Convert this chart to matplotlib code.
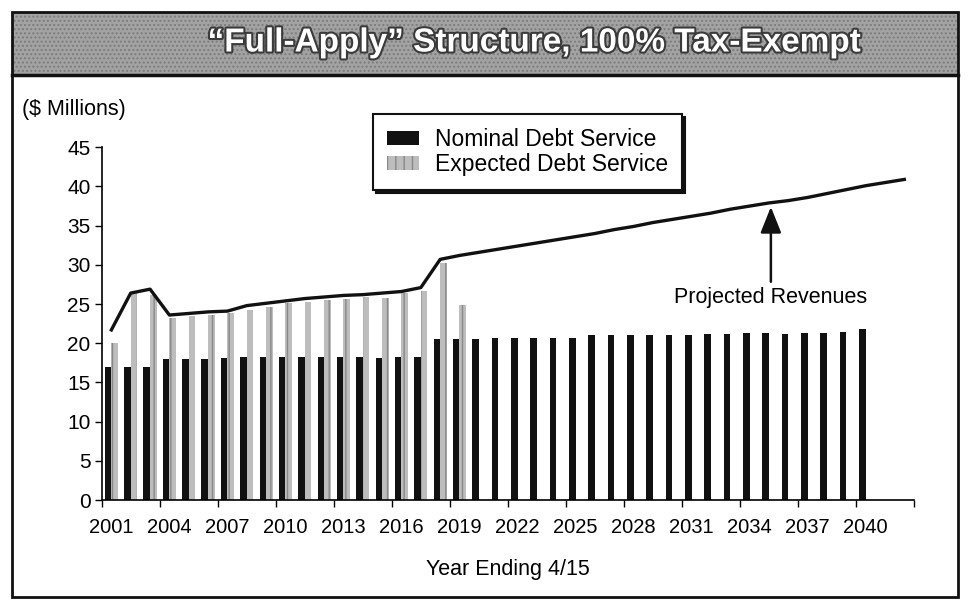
import numpy as np
import matplotlib
matplotlib.use("Agg")
import matplotlib.pyplot as plt
from matplotlib.patches import Rectangle
import matplotlib.patheffects as pe

plt.rcParams['font.family'] = ['Liberation Sans', 'DejaVu Sans']

# data ($ millions, year ending 4/15)
years = list(range(2001, 2043))
nominal = [17.0, 17.0, 17.0, 18.0, 18.0, 18.0, 18.1, 18.3, 18.3, 18.3,
           18.3, 18.3, 18.2, 18.2, 18.1, 18.2, 18.3, 20.5, 20.5, 20.6,
           20.7, 20.7, 20.7, 20.7, 20.7, 21.0, 21.1, 21.1, 21.1, 21.1,
           21.1, 21.2, 21.2, 21.3, 21.3, 21.2, 21.3, 21.3, 21.4, 21.8]
expected = [20.0, 26.4, 26.1, 23.2, 23.5, 23.6, 23.9, 24.2, 24.6, 25.1,
            25.3, 25.5, 25.7, 25.9, 25.8, 26.4, 26.7, 30.2, 24.9]
revenues = [21.7, 26.4, 26.9, 23.6, 23.8, 24.0, 24.1, 24.8, 25.1, 25.4,
            25.7, 25.9, 26.1, 26.2, 26.4, 26.6, 27.1, 30.7, 31.2, 31.6,
            32.0, 32.4, 32.8, 33.2, 33.6, 34.0, 34.5, 34.9, 35.4, 35.8,
            36.2, 36.6, 37.1, 37.5, 37.9, 38.2, 38.6, 39.1, 39.6, 40.1,
            40.5, 40.9]
label_years = years[0:40:3]

W, H = 968, 602
fig = plt.figure(figsize=(W / 100, H / 100), dpi=100)

# banner + frame
fig.patches.append(Rectangle((12 / W, 1 - 75 / H), 946 / W, 63 / H,
                             transform=fig.transFigure, facecolor='#a3a3a3',
                             edgecolor='#7d7d7d', hatch='....', lw=0, zorder=0))
fig.patches.append(Rectangle((12 / W, 1 - 597 / H), 946 / W, 585 / H,
                             transform=fig.transFigure, facecolor='none',
                             edgecolor='#111111', lw=2, zorder=1))
fig.add_artist(plt.Line2D([12 / W, 958 / W], [1 - 75 / H, 1 - 75 / H],
                          color='#111111', lw=2.5))
fig.text(535 / W, 1 - 43 / H, '\u201cFull-Apply\u201d Structure, 100% Tax-Exempt',
         ha='center', va='center', fontsize=24, fontweight='bold', color='white',
         path_effects=[pe.withStroke(linewidth=3, foreground='#3a3a3a')])
fig.text(22 / W, 1 - 110 / H, '($ Millions)', ha='left', va='center', fontsize=15.5)

ax = fig.add_axes([101.7 / W, 1 - 500 / H, 812.3 / W, 352.7 / H])
x = np.arange(len(years))

b1 = ax.bar(x[:len(nominal)] - 0.17, nominal, width=0.34, color='#111111',
            label='Nominal Debt Service', zorder=2)
b2 = ax.bar(x[:len(expected)] + 0.17, expected, width=0.34, color='#bdbdbd',
            edgecolor='#888888', hatch='||', lw=0,
            label='Expected Debt Service', zorder=2)
ax.plot(x, revenues, color='#111111', lw=2.4, zorder=3)

ax.annotate('Projected Revenues', xy=(34.1, 37.4), xytext=(34.1, 25.8),
            ha='center', va='center', fontsize=15.5,
            arrowprops=dict(arrowstyle='-|>,head_length=0.8,head_width=0.32',
                            mutation_scale=20, color='#111111', lw=1.8,
                            shrinkA=2, shrinkB=0))

ax.set_xlim(-0.5, len(years) - 0.5)
ax.set_ylim(0, 45)
ax.set_yticks(range(0, 46, 5))
ax.set_xticks(np.arange(-0.5, len(years), 3))
ax.set_xticklabels([])
ax.set_xticks([years.index(y) for y in label_years], minor=True)
ax.set_xticklabels([str(y) for y in label_years], minor=True)
ax.tick_params(axis='x', which='major', length=5, width=1, direction='out')
ax.tick_params(axis='x', which='minor', length=0, pad=13, labelsize=14.5)
ax.tick_params(axis='y', length=5, width=1, pad=3, labelsize=15)
for s in ['top', 'right']:
    ax.spines[s].set_visible(False)
for s in ['left', 'bottom']:
    ax.spines[s].set_linewidth(1.2)
ax.set_xlabel('Year Ending 4/15', fontsize=15.5, labelpad=16)

leg = ax.legend(handles=[b1, b2], loc='upper left', bbox_to_anchor=(0.334, 1.094),
                borderaxespad=0, fontsize=16.5, frameon=True, fancybox=False,
                borderpad=0.6, handlelength=1.4, handleheight=0.55,
                handletextpad=0.7, labelspacing=0.1,
                shadow={'color': '#111111', 'alpha': 1})
leg.get_frame().set_edgecolor('#111111')
leg.get_frame().set_linewidth(1.5)

fig.savefig('out.png', dpi=100)
